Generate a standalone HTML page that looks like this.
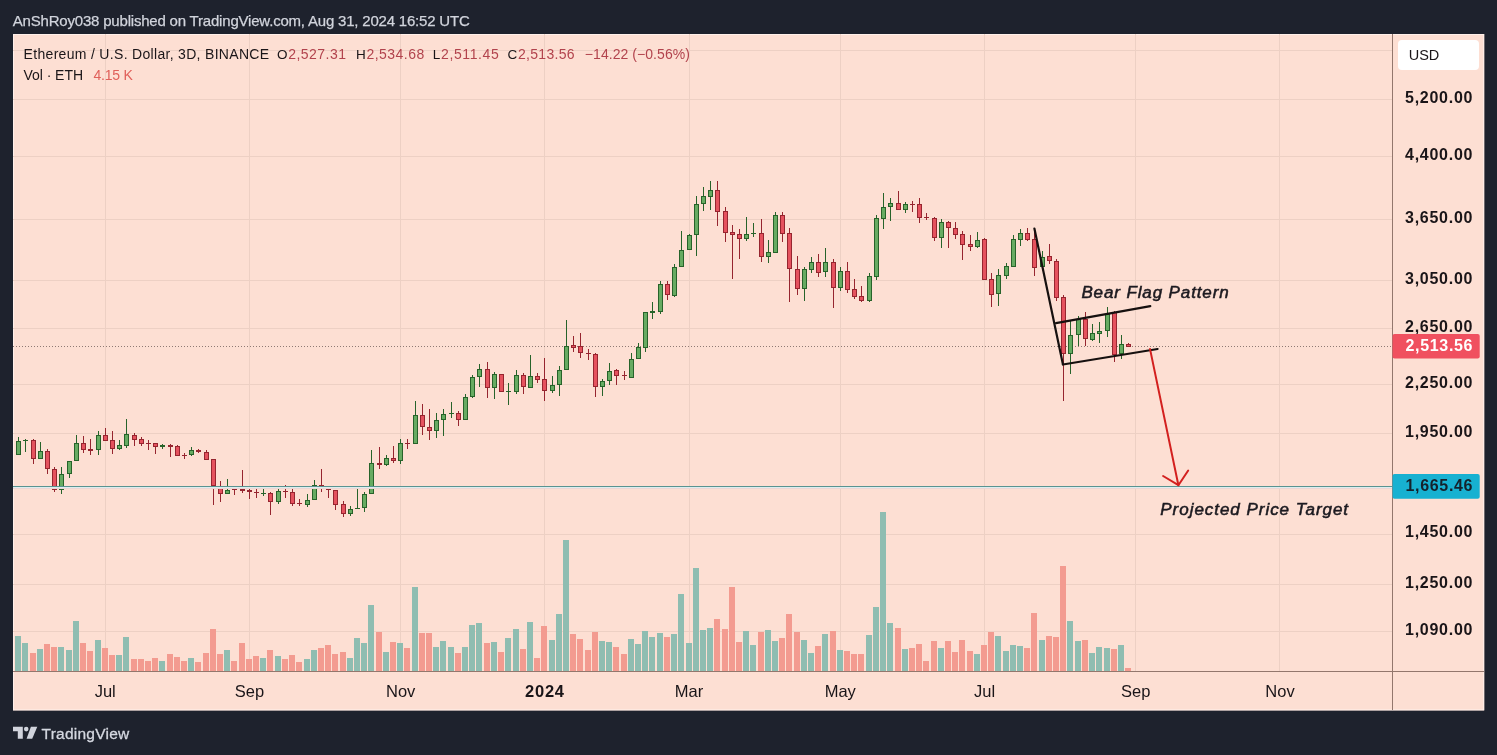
<!DOCTYPE html>
<html lang="en"><head><meta charset="utf-8"><title>ETHUSD 3D chart</title>
<style>html,body{margin:0;padding:0;background:#1e222d;overflow:hidden}body{width:1497px;height:755px;position:relative}</style></head>
<body>
<svg width="1497" height="755" viewBox="0 0 1497 755" style="position:absolute;left:0;top:0;will-change:transform;font-family:'Liberation Sans',sans-serif">
<rect x="0" y="0" width="1497" height="755" fill="#1e222d"/>
<rect x="13" y="34" width="1471.2" height="676.4" fill="#fddfd3"/>
<rect x="13.5" y="34.5" width="1470.2" height="675.4" fill="none" stroke="#fff0ea" stroke-width="1"/>
<g stroke="#edd0c4" stroke-width="1" shape-rendering="crispEdges">
<line x1="105.5" y1="34" x2="105.5" y2="671"/>
<line x1="249.5" y1="34" x2="249.5" y2="671"/>
<line x1="400.5" y1="34" x2="400.5" y2="671"/>
<line x1="544.5" y1="34" x2="544.5" y2="671"/>
<line x1="689.5" y1="34" x2="689.5" y2="671"/>
<line x1="840.5" y1="34" x2="840.5" y2="671"/>
<line x1="984.5" y1="34" x2="984.5" y2="671"/>
<line x1="1135.5" y1="34" x2="1135.5" y2="671"/>
<line x1="1279.5" y1="34" x2="1279.5" y2="671"/>
<line x1="13" y1="50.5" x2="1392" y2="50.5"/>
<line x1="13" y1="99.5" x2="1392" y2="99.5"/>
<line x1="13" y1="156.5" x2="1392" y2="156.5"/>
<line x1="13" y1="219.5" x2="1392" y2="219.5"/>
<line x1="13" y1="280.5" x2="1392" y2="280.5"/>
<line x1="13" y1="328.5" x2="1392" y2="328.5"/>
<line x1="13" y1="384.5" x2="1392" y2="384.5"/>
<line x1="13" y1="433.5" x2="1392" y2="433.5"/>
<line x1="13" y1="534.5" x2="1392" y2="534.5"/>
<line x1="13" y1="584.5" x2="1392" y2="584.5"/>
<line x1="13" y1="631.5" x2="1392" y2="631.5"/>
</g>
<g shape-rendering="crispEdges">
<rect x="15" y="635.6" width="6" height="35.4" fill="#8fbdb1"/>
<rect x="22" y="642.5" width="6" height="28.5" fill="#8fbdb1"/>
<rect x="30" y="652.6" width="6" height="18.4" fill="#f39b90"/>
<rect x="37" y="648.6" width="6" height="22.4" fill="#8fbdb1"/>
<rect x="44" y="643.6" width="6" height="27.4" fill="#f39b90"/>
<rect x="51" y="647.4" width="6" height="23.6" fill="#f39b90"/>
<rect x="58" y="646.6" width="6" height="24.4" fill="#8fbdb1"/>
<rect x="66" y="649.6" width="6" height="21.4" fill="#8fbdb1"/>
<rect x="73" y="620.5" width="6" height="50.5" fill="#8fbdb1"/>
<rect x="80" y="642.5" width="6" height="28.5" fill="#f39b90"/>
<rect x="87" y="650.6" width="6" height="20.4" fill="#f39b90"/>
<rect x="95" y="639.6" width="6" height="31.4" fill="#8fbdb1"/>
<rect x="102" y="647.6" width="6" height="23.4" fill="#f39b90"/>
<rect x="109" y="654.6" width="6" height="16.4" fill="#f39b90"/>
<rect x="116" y="654.6" width="6" height="16.4" fill="#8fbdb1"/>
<rect x="123" y="636.5" width="6" height="34.5" fill="#8fbdb1"/>
<rect x="131" y="658.6" width="6" height="12.4" fill="#f39b90"/>
<rect x="138" y="658.6" width="6" height="12.4" fill="#f39b90"/>
<rect x="145" y="660.6" width="6" height="10.4" fill="#f39b90"/>
<rect x="152" y="657.6" width="6" height="13.4" fill="#f39b90"/>
<rect x="159" y="660.6" width="6" height="10.4" fill="#8fbdb1"/>
<rect x="167" y="653.6" width="6" height="17.4" fill="#f39b90"/>
<rect x="174" y="656.6" width="6" height="14.4" fill="#f39b90"/>
<rect x="181" y="660.6" width="6" height="10.4" fill="#f39b90"/>
<rect x="188" y="657.6" width="6" height="13.4" fill="#8fbdb1"/>
<rect x="195" y="661.6" width="6" height="9.4" fill="#f39b90"/>
<rect x="203" y="653.0" width="6" height="18.0" fill="#f39b90"/>
<rect x="210" y="628.9" width="6" height="42.1" fill="#f39b90"/>
<rect x="217" y="653.9" width="6" height="17.1" fill="#f39b90"/>
<rect x="224" y="649.9" width="6" height="21.1" fill="#8fbdb1"/>
<rect x="231" y="661.0" width="6" height="10.0" fill="#f39b90"/>
<rect x="239" y="642.9" width="6" height="28.1" fill="#f39b90"/>
<rect x="246" y="658.8" width="6" height="12.2" fill="#f39b90"/>
<rect x="253" y="655.9" width="6" height="15.1" fill="#f39b90"/>
<rect x="260" y="657.9" width="6" height="13.1" fill="#8fbdb1"/>
<rect x="267" y="649.9" width="6" height="21.1" fill="#f39b90"/>
<rect x="275" y="655.9" width="6" height="15.1" fill="#8fbdb1"/>
<rect x="282" y="659.0" width="6" height="12.0" fill="#f39b90"/>
<rect x="289" y="655.0" width="6" height="16.0" fill="#f39b90"/>
<rect x="296" y="661.9" width="6" height="9.1" fill="#f39b90"/>
<rect x="304" y="659.0" width="6" height="12.0" fill="#8fbdb1"/>
<rect x="311" y="649.9" width="6" height="21.1" fill="#8fbdb1"/>
<rect x="318" y="647.9" width="6" height="23.1" fill="#f39b90"/>
<rect x="325" y="644.9" width="6" height="26.1" fill="#f39b90"/>
<rect x="332" y="653.9" width="6" height="17.1" fill="#f39b90"/>
<rect x="340" y="651.9" width="6" height="19.1" fill="#f39b90"/>
<rect x="347" y="657.9" width="6" height="13.1" fill="#8fbdb1"/>
<rect x="354" y="637.9" width="6" height="33.1" fill="#8fbdb1"/>
<rect x="361" y="642.9" width="6" height="28.1" fill="#8fbdb1"/>
<rect x="368" y="604.9" width="6" height="66.1" fill="#8fbdb1"/>
<rect x="376" y="631.9" width="6" height="39.1" fill="#f39b90"/>
<rect x="383" y="651.9" width="6" height="19.1" fill="#8fbdb1"/>
<rect x="390" y="641.9" width="6" height="29.1" fill="#f39b90"/>
<rect x="397" y="642.8" width="6" height="28.2" fill="#8fbdb1"/>
<rect x="404" y="647.8" width="6" height="23.2" fill="#f39b90"/>
<rect x="412" y="586.6" width="6" height="84.4" fill="#8fbdb1"/>
<rect x="419" y="632.9" width="6" height="38.1" fill="#f39b90"/>
<rect x="426" y="632.9" width="6" height="38.1" fill="#f39b90"/>
<rect x="433" y="646.8" width="6" height="24.2" fill="#8fbdb1"/>
<rect x="440" y="640.8" width="6" height="30.2" fill="#8fbdb1"/>
<rect x="448" y="646.8" width="6" height="24.2" fill="#8fbdb1"/>
<rect x="455" y="652.7" width="6" height="18.3" fill="#f39b90"/>
<rect x="462" y="646.8" width="6" height="24.2" fill="#8fbdb1"/>
<rect x="469" y="624.9" width="6" height="46.1" fill="#8fbdb1"/>
<rect x="476" y="622.9" width="6" height="48.1" fill="#8fbdb1"/>
<rect x="484" y="642.8" width="6" height="28.2" fill="#f39b90"/>
<rect x="491" y="641.8" width="6" height="29.2" fill="#8fbdb1"/>
<rect x="498" y="651.7" width="6" height="19.3" fill="#f39b90"/>
<rect x="505" y="637.8" width="6" height="33.2" fill="#8fbdb1"/>
<rect x="513" y="628.9" width="6" height="42.1" fill="#8fbdb1"/>
<rect x="520" y="648.7" width="6" height="22.3" fill="#f39b90"/>
<rect x="527" y="621.9" width="6" height="49.1" fill="#8fbdb1"/>
<rect x="534" y="657.7" width="6" height="13.3" fill="#f39b90"/>
<rect x="541" y="625.9" width="6" height="45.1" fill="#f39b90"/>
<rect x="549" y="639.8" width="6" height="31.2" fill="#8fbdb1"/>
<rect x="556" y="614.0" width="6" height="57.0" fill="#8fbdb1"/>
<rect x="563" y="539.5" width="6" height="131.5" fill="#8fbdb1"/>
<rect x="570" y="633.8" width="6" height="37.2" fill="#f39b90"/>
<rect x="577" y="638.8" width="6" height="32.2" fill="#f39b90"/>
<rect x="585" y="649.8" width="6" height="21.2" fill="#f39b90"/>
<rect x="592" y="631.9" width="6" height="39.1" fill="#f39b90"/>
<rect x="599" y="640.9" width="6" height="30.1" fill="#8fbdb1"/>
<rect x="606" y="642.1" width="6" height="28.9" fill="#8fbdb1"/>
<rect x="613" y="646.9" width="6" height="24.1" fill="#f39b90"/>
<rect x="621" y="653.8" width="6" height="17.2" fill="#f39b90"/>
<rect x="628" y="638.8" width="6" height="32.2" fill="#8fbdb1"/>
<rect x="635" y="643.8" width="6" height="27.2" fill="#8fbdb1"/>
<rect x="642" y="630.5" width="6" height="40.5" fill="#8fbdb1"/>
<rect x="649" y="636.9" width="6" height="34.1" fill="#8fbdb1"/>
<rect x="657" y="632.8" width="6" height="38.2" fill="#8fbdb1"/>
<rect x="664" y="636.9" width="6" height="34.1" fill="#f39b90"/>
<rect x="671" y="634.0" width="6" height="37.0" fill="#8fbdb1"/>
<rect x="678" y="593.9" width="6" height="77.1" fill="#8fbdb1"/>
<rect x="686" y="642.9" width="6" height="28.1" fill="#8fbdb1"/>
<rect x="693" y="567.7" width="6" height="103.3" fill="#8fbdb1"/>
<rect x="700" y="629.7" width="6" height="41.3" fill="#8fbdb1"/>
<rect x="707" y="628.0" width="6" height="43.0" fill="#8fbdb1"/>
<rect x="714" y="619.0" width="6" height="52.0" fill="#f39b90"/>
<rect x="722" y="628.8" width="6" height="42.2" fill="#f39b90"/>
<rect x="729" y="586.6" width="6" height="84.4" fill="#f39b90"/>
<rect x="736" y="641.7" width="6" height="29.3" fill="#f39b90"/>
<rect x="743" y="630.5" width="6" height="40.5" fill="#8fbdb1"/>
<rect x="750" y="644.8" width="6" height="26.2" fill="#8fbdb1"/>
<rect x="758" y="631.9" width="6" height="39.1" fill="#f39b90"/>
<rect x="765" y="629.7" width="6" height="41.3" fill="#8fbdb1"/>
<rect x="772" y="640.7" width="6" height="30.3" fill="#8fbdb1"/>
<rect x="779" y="637.9" width="6" height="33.1" fill="#f39b90"/>
<rect x="786" y="613.5" width="6" height="57.5" fill="#f39b90"/>
<rect x="794" y="631.6" width="6" height="39.4" fill="#f39b90"/>
<rect x="801" y="639.7" width="6" height="31.3" fill="#8fbdb1"/>
<rect x="808" y="652.5" width="6" height="18.5" fill="#8fbdb1"/>
<rect x="815" y="645.5" width="6" height="25.5" fill="#f39b90"/>
<rect x="822" y="633.9" width="6" height="37.1" fill="#8fbdb1"/>
<rect x="830" y="630.9" width="6" height="40.1" fill="#f39b90"/>
<rect x="837" y="649.9" width="6" height="21.1" fill="#8fbdb1"/>
<rect x="844" y="650.6" width="6" height="20.4" fill="#f39b90"/>
<rect x="851" y="653.6" width="6" height="17.4" fill="#f39b90"/>
<rect x="858" y="653.6" width="6" height="17.4" fill="#f39b90"/>
<rect x="866" y="634.8" width="6" height="36.2" fill="#8fbdb1"/>
<rect x="873" y="606.6" width="6" height="64.4" fill="#8fbdb1"/>
<rect x="880" y="511.5" width="6" height="159.5" fill="#8fbdb1"/>
<rect x="887" y="622.8" width="6" height="48.2" fill="#8fbdb1"/>
<rect x="895" y="627.9" width="6" height="43.1" fill="#f39b90"/>
<rect x="902" y="648.7" width="6" height="22.3" fill="#8fbdb1"/>
<rect x="909" y="647.8" width="6" height="23.2" fill="#f39b90"/>
<rect x="916" y="643.6" width="6" height="27.4" fill="#f39b90"/>
<rect x="923" y="661.0" width="6" height="10.0" fill="#f39b90"/>
<rect x="931" y="640.6" width="6" height="30.4" fill="#f39b90"/>
<rect x="938" y="647.8" width="6" height="23.2" fill="#8fbdb1"/>
<rect x="945" y="640.6" width="6" height="30.4" fill="#f39b90"/>
<rect x="952" y="651.8" width="6" height="19.2" fill="#f39b90"/>
<rect x="959" y="639.8" width="6" height="31.2" fill="#f39b90"/>
<rect x="967" y="650.6" width="6" height="20.4" fill="#f39b90"/>
<rect x="974" y="653.6" width="6" height="17.4" fill="#8fbdb1"/>
<rect x="981" y="644.8" width="6" height="26.2" fill="#f39b90"/>
<rect x="988" y="631.9" width="6" height="39.1" fill="#f39b90"/>
<rect x="995" y="635.7" width="6" height="35.3" fill="#8fbdb1"/>
<rect x="1003" y="650.6" width="6" height="20.4" fill="#8fbdb1"/>
<rect x="1010" y="644.8" width="6" height="26.2" fill="#8fbdb1"/>
<rect x="1017" y="645.7" width="6" height="25.3" fill="#8fbdb1"/>
<rect x="1024" y="647.7" width="6" height="23.3" fill="#f39b90"/>
<rect x="1031" y="612.9" width="6" height="58.1" fill="#f39b90"/>
<rect x="1039" y="639.9" width="6" height="31.1" fill="#8fbdb1"/>
<rect x="1046" y="635.7" width="6" height="35.3" fill="#f39b90"/>
<rect x="1053" y="636.9" width="6" height="34.1" fill="#f39b90"/>
<rect x="1060" y="565.7" width="6" height="105.3" fill="#f39b90"/>
<rect x="1067" y="620.8" width="6" height="50.2" fill="#8fbdb1"/>
<rect x="1075" y="640.7" width="6" height="30.3" fill="#8fbdb1"/>
<rect x="1082" y="639.9" width="6" height="31.1" fill="#f39b90"/>
<rect x="1089" y="652.6" width="6" height="18.4" fill="#8fbdb1"/>
<rect x="1096" y="646.8" width="6" height="24.2" fill="#8fbdb1"/>
<rect x="1104" y="647.8" width="6" height="23.2" fill="#8fbdb1"/>
<rect x="1111" y="648.6" width="6" height="22.4" fill="#f39b90"/>
<rect x="1118" y="644.8" width="6" height="26.2" fill="#8fbdb1"/>
<rect x="1125" y="668.0" width="6" height="3.0" fill="#f39b90"/>
</g>
<line x1="13" y1="346.5" x2="1392" y2="346.5" stroke="#8f7a74" stroke-width="1" stroke-dasharray="1 2" shape-rendering="crispEdges"/>
<g shape-rendering="crispEdges">
<rect x="18" y="437.0" width="1" height="17.7" fill="#27632a"/>
<rect x="16" y="441.0" width="5" height="13.8" fill="#27632a"/>
<rect x="17" y="442.0" width="3" height="11.8" fill="#67ab62"/>
<rect x="25" y="438.7" width="1" height="12.9" fill="#27632a"/>
<rect x="23" y="440.1" width="5" height="1.2" fill="#27632a"/>
<rect x="33" y="438.7" width="1" height="25.0" fill="#96252f"/>
<rect x="31" y="439.9" width="5" height="18.6" fill="#96252f"/>
<rect x="32" y="440.9" width="3" height="16.6" fill="#e5525e"/>
<rect x="40" y="442.2" width="1" height="17.2" fill="#27632a"/>
<rect x="38" y="451.1" width="5" height="7.4" fill="#27632a"/>
<rect x="39" y="452.1" width="3" height="5.4" fill="#67ab62"/>
<rect x="47" y="449.1" width="1" height="25.3" fill="#96252f"/>
<rect x="45" y="451.1" width="5" height="18.2" fill="#96252f"/>
<rect x="46" y="452.1" width="3" height="16.2" fill="#e5525e"/>
<rect x="54" y="467.1" width="1" height="25.0" fill="#96252f"/>
<rect x="52" y="469.2" width="5" height="20.3" fill="#96252f"/>
<rect x="53" y="470.2" width="3" height="18.3" fill="#e5525e"/>
<rect x="61" y="467.1" width="1" height="26.7" fill="#27632a"/>
<rect x="59" y="474.4" width="5" height="15.1" fill="#27632a"/>
<rect x="60" y="475.4" width="3" height="13.1" fill="#67ab62"/>
<rect x="69" y="461.1" width="1" height="16.4" fill="#27632a"/>
<rect x="67" y="461.1" width="5" height="13.3" fill="#27632a"/>
<rect x="68" y="462.1" width="3" height="11.3" fill="#67ab62"/>
<rect x="76" y="435.3" width="1" height="25.8" fill="#27632a"/>
<rect x="74" y="443.0" width="5" height="18.1" fill="#27632a"/>
<rect x="75" y="444.0" width="3" height="16.1" fill="#67ab62"/>
<rect x="83" y="436.1" width="1" height="16.4" fill="#96252f"/>
<rect x="81" y="443.0" width="5" height="6.5" fill="#96252f"/>
<rect x="82" y="444.0" width="3" height="4.5" fill="#e5525e"/>
<rect x="90" y="439.2" width="1" height="16.2" fill="#96252f"/>
<rect x="88" y="449.4" width="5" height="1.4" fill="#96252f"/>
<rect x="98" y="431.0" width="1" height="23.8" fill="#27632a"/>
<rect x="96" y="435.3" width="5" height="15.1" fill="#27632a"/>
<rect x="97" y="436.3" width="3" height="13.1" fill="#67ab62"/>
<rect x="105" y="427.9" width="1" height="13.4" fill="#96252f"/>
<rect x="103" y="435.3" width="5" height="5.2" fill="#96252f"/>
<rect x="104" y="436.3" width="3" height="3.2" fill="#e5525e"/>
<rect x="112" y="431.3" width="1" height="22.4" fill="#96252f"/>
<rect x="110" y="440.4" width="5" height="8.1" fill="#96252f"/>
<rect x="111" y="441.4" width="3" height="6.1" fill="#e5525e"/>
<rect x="119" y="440.4" width="1" height="10.0" fill="#27632a"/>
<rect x="117" y="445.4" width="5" height="3.1" fill="#27632a"/>
<rect x="118" y="446.4" width="3" height="1.1" fill="#67ab62"/>
<rect x="126" y="418.9" width="1" height="28.9" fill="#27632a"/>
<rect x="124" y="434.1" width="5" height="11.4" fill="#27632a"/>
<rect x="125" y="435.1" width="3" height="9.4" fill="#67ab62"/>
<rect x="134" y="433.0" width="1" height="12.6" fill="#96252f"/>
<rect x="132" y="435.3" width="5" height="4.3" fill="#96252f"/>
<rect x="133" y="436.3" width="3" height="2.3" fill="#e5525e"/>
<rect x="141" y="436.5" width="1" height="9.5" fill="#96252f"/>
<rect x="139" y="439.2" width="5" height="4.3" fill="#96252f"/>
<rect x="140" y="440.2" width="3" height="2.3" fill="#e5525e"/>
<rect x="148" y="440.4" width="1" height="9.5" fill="#96252f"/>
<rect x="146" y="443.0" width="5" height="1.2" fill="#96252f"/>
<rect x="155" y="443.0" width="1" height="10.7" fill="#96252f"/>
<rect x="153" y="443.4" width="5" height="3.1" fill="#96252f"/>
<rect x="154" y="444.4" width="3" height="1.1" fill="#e5525e"/>
<rect x="162" y="443.9" width="1" height="4.8" fill="#27632a"/>
<rect x="160" y="445.4" width="5" height="1.2" fill="#27632a"/>
<rect x="170" y="444.2" width="1" height="12.6" fill="#96252f"/>
<rect x="168" y="445.3" width="5" height="1.2" fill="#96252f"/>
<rect x="177" y="445.1" width="1" height="10.8" fill="#96252f"/>
<rect x="175" y="446.0" width="5" height="9.5" fill="#96252f"/>
<rect x="176" y="447.0" width="3" height="7.5" fill="#e5525e"/>
<rect x="184" y="452.5" width="1" height="6.0" fill="#96252f"/>
<rect x="182" y="454.7" width="5" height="1.2" fill="#96252f"/>
<rect x="191" y="446.5" width="1" height="9.5" fill="#27632a"/>
<rect x="189" y="450.4" width="5" height="5.0" fill="#27632a"/>
<rect x="190" y="451.4" width="3" height="3.0" fill="#67ab62"/>
<rect x="198" y="449.4" width="1" height="3.3" fill="#96252f"/>
<rect x="196" y="450.3" width="5" height="1.7" fill="#96252f"/>
<rect x="206" y="449.9" width="1" height="9.6" fill="#96252f"/>
<rect x="204" y="452.2" width="5" height="7.4" fill="#96252f"/>
<rect x="205" y="453.2" width="3" height="5.4" fill="#e5525e"/>
<rect x="213" y="459.1" width="1" height="45.6" fill="#96252f"/>
<rect x="211" y="459.1" width="5" height="26.7" fill="#96252f"/>
<rect x="212" y="460.1" width="3" height="24.7" fill="#e5525e"/>
<rect x="220" y="481.4" width="1" height="20.7" fill="#96252f"/>
<rect x="218" y="486.6" width="5" height="6.9" fill="#96252f"/>
<rect x="219" y="487.6" width="3" height="4.9" fill="#e5525e"/>
<rect x="227" y="478.8" width="1" height="14.6" fill="#27632a"/>
<rect x="225" y="489.5" width="5" height="4.0" fill="#27632a"/>
<rect x="226" y="490.5" width="3" height="2.0" fill="#67ab62"/>
<rect x="234" y="486.6" width="1" height="8.6" fill="#96252f"/>
<rect x="232" y="488.8" width="5" height="1.2" fill="#96252f"/>
<rect x="242" y="469.9" width="1" height="22.7" fill="#96252f"/>
<rect x="240" y="489.2" width="5" height="1.4" fill="#96252f"/>
<rect x="249" y="489.2" width="1" height="9.5" fill="#96252f"/>
<rect x="247" y="490.0" width="5" height="2.2" fill="#96252f"/>
<rect x="248" y="491.0" width="3" height="0.2" fill="#e5525e"/>
<rect x="256" y="486.9" width="1" height="10.8" fill="#96252f"/>
<rect x="254" y="491.9" width="5" height="1.2" fill="#96252f"/>
<rect x="263" y="486.9" width="1" height="8.6" fill="#27632a"/>
<rect x="261" y="493.1" width="5" height="1.2" fill="#27632a"/>
<rect x="270" y="492.3" width="1" height="22.4" fill="#96252f"/>
<rect x="268" y="493.0" width="5" height="8.6" fill="#96252f"/>
<rect x="269" y="494.0" width="3" height="6.6" fill="#e5525e"/>
<rect x="278" y="489.2" width="1" height="14.6" fill="#27632a"/>
<rect x="276" y="491.2" width="5" height="10.3" fill="#27632a"/>
<rect x="277" y="492.2" width="3" height="8.3" fill="#67ab62"/>
<rect x="285" y="484.9" width="1" height="12.9" fill="#96252f"/>
<rect x="283" y="490.9" width="5" height="1.2" fill="#96252f"/>
<rect x="292" y="486.6" width="1" height="18.9" fill="#96252f"/>
<rect x="290" y="492.3" width="5" height="11.5" fill="#96252f"/>
<rect x="291" y="493.3" width="3" height="9.5" fill="#e5525e"/>
<rect x="299" y="499.2" width="1" height="6.4" fill="#96252f"/>
<rect x="297" y="502.9" width="5" height="1.2" fill="#96252f"/>
<rect x="307" y="493.5" width="1" height="13.3" fill="#27632a"/>
<rect x="305" y="500.0" width="5" height="4.6" fill="#27632a"/>
<rect x="306" y="501.0" width="3" height="2.6" fill="#67ab62"/>
<rect x="314" y="480.2" width="1" height="20.1" fill="#27632a"/>
<rect x="312" y="485.2" width="5" height="15.1" fill="#27632a"/>
<rect x="313" y="486.2" width="3" height="13.1" fill="#67ab62"/>
<rect x="321" y="469.0" width="1" height="22.7" fill="#96252f"/>
<rect x="319" y="485.2" width="5" height="3.1" fill="#96252f"/>
<rect x="320" y="486.2" width="3" height="1.1" fill="#e5525e"/>
<rect x="328" y="486.9" width="1" height="10.8" fill="#96252f"/>
<rect x="326" y="488.3" width="5" height="2.1" fill="#96252f"/>
<rect x="335" y="490.2" width="1" height="19.6" fill="#96252f"/>
<rect x="333" y="490.2" width="5" height="14.5" fill="#96252f"/>
<rect x="334" y="491.2" width="3" height="12.5" fill="#e5525e"/>
<rect x="343" y="501.2" width="1" height="15.5" fill="#96252f"/>
<rect x="341" y="504.1" width="5" height="9.6" fill="#96252f"/>
<rect x="342" y="505.1" width="3" height="7.6" fill="#e5525e"/>
<rect x="350" y="506.4" width="1" height="9.1" fill="#27632a"/>
<rect x="348" y="509.3" width="5" height="4.5" fill="#27632a"/>
<rect x="349" y="510.3" width="3" height="2.5" fill="#67ab62"/>
<rect x="357" y="488.3" width="1" height="21.0" fill="#27632a"/>
<rect x="355" y="508.1" width="5" height="1.2" fill="#27632a"/>
<rect x="364" y="491.8" width="1" height="19.8" fill="#27632a"/>
<rect x="362" y="494.3" width="5" height="14.1" fill="#27632a"/>
<rect x="363" y="495.3" width="3" height="12.1" fill="#67ab62"/>
<rect x="371" y="449.9" width="1" height="44.4" fill="#27632a"/>
<rect x="369" y="463.4" width="5" height="31.0" fill="#27632a"/>
<rect x="370" y="464.4" width="3" height="29.0" fill="#67ab62"/>
<rect x="379" y="447.0" width="1" height="21.5" fill="#96252f"/>
<rect x="377" y="463.4" width="5" height="1.2" fill="#96252f"/>
<rect x="386" y="454.7" width="1" height="11.0" fill="#27632a"/>
<rect x="384" y="458.3" width="5" height="6.4" fill="#27632a"/>
<rect x="385" y="459.3" width="3" height="4.4" fill="#67ab62"/>
<rect x="393" y="446.2" width="1" height="16.3" fill="#96252f"/>
<rect x="391" y="458.3" width="5" height="2.5" fill="#96252f"/>
<rect x="392" y="459.3" width="3" height="0.5" fill="#e5525e"/>
<rect x="400" y="439.2" width="1" height="24.4" fill="#27632a"/>
<rect x="398" y="443.1" width="5" height="17.4" fill="#27632a"/>
<rect x="399" y="444.1" width="3" height="15.4" fill="#67ab62"/>
<rect x="407" y="438.8" width="1" height="10.6" fill="#96252f"/>
<rect x="405" y="442.6" width="5" height="1.2" fill="#96252f"/>
<rect x="415" y="401.1" width="1" height="43.0" fill="#27632a"/>
<rect x="413" y="415.3" width="5" height="28.8" fill="#27632a"/>
<rect x="414" y="416.3" width="3" height="26.8" fill="#67ab62"/>
<rect x="422" y="404.3" width="1" height="30.7" fill="#96252f"/>
<rect x="420" y="415.3" width="5" height="11.7" fill="#96252f"/>
<rect x="421" y="416.3" width="3" height="9.7" fill="#e5525e"/>
<rect x="429" y="408.9" width="1" height="30.7" fill="#96252f"/>
<rect x="427" y="426.9" width="5" height="3.8" fill="#96252f"/>
<rect x="428" y="427.9" width="3" height="1.8" fill="#e5525e"/>
<rect x="436" y="413.4" width="1" height="24.4" fill="#27632a"/>
<rect x="434" y="420.2" width="5" height="11.2" fill="#27632a"/>
<rect x="435" y="421.2" width="3" height="9.2" fill="#67ab62"/>
<rect x="443" y="409.2" width="1" height="26.9" fill="#27632a"/>
<rect x="441" y="414.2" width="5" height="5.9" fill="#27632a"/>
<rect x="442" y="415.2" width="3" height="3.9" fill="#67ab62"/>
<rect x="451" y="402.2" width="1" height="15.3" fill="#27632a"/>
<rect x="449" y="413.0" width="5" height="1.2" fill="#27632a"/>
<rect x="458" y="411.1" width="1" height="14.8" fill="#96252f"/>
<rect x="456" y="413.4" width="5" height="6.1" fill="#96252f"/>
<rect x="457" y="414.4" width="3" height="4.1" fill="#e5525e"/>
<rect x="465" y="394.1" width="1" height="25.4" fill="#27632a"/>
<rect x="463" y="397.3" width="5" height="22.2" fill="#27632a"/>
<rect x="464" y="398.3" width="3" height="20.2" fill="#67ab62"/>
<rect x="472" y="375.3" width="1" height="23.1" fill="#27632a"/>
<rect x="470" y="377.4" width="5" height="19.9" fill="#27632a"/>
<rect x="471" y="378.4" width="3" height="17.9" fill="#67ab62"/>
<rect x="479" y="364.0" width="1" height="23.3" fill="#27632a"/>
<rect x="477" y="368.7" width="5" height="8.7" fill="#27632a"/>
<rect x="478" y="369.7" width="3" height="6.7" fill="#67ab62"/>
<rect x="487" y="361.9" width="1" height="35.6" fill="#96252f"/>
<rect x="485" y="368.7" width="5" height="19.7" fill="#96252f"/>
<rect x="486" y="369.7" width="3" height="17.7" fill="#e5525e"/>
<rect x="494" y="372.1" width="1" height="26.5" fill="#27632a"/>
<rect x="492" y="374.2" width="5" height="14.2" fill="#27632a"/>
<rect x="493" y="375.2" width="3" height="12.2" fill="#67ab62"/>
<rect x="501" y="374.2" width="1" height="18.0" fill="#96252f"/>
<rect x="499" y="374.2" width="5" height="18.0" fill="#96252f"/>
<rect x="500" y="375.2" width="3" height="16.0" fill="#e5525e"/>
<rect x="508" y="382.5" width="1" height="22.5" fill="#27632a"/>
<rect x="506" y="390.7" width="5" height="1.2" fill="#27632a"/>
<rect x="516" y="370.4" width="1" height="23.3" fill="#27632a"/>
<rect x="514" y="375.3" width="5" height="16.3" fill="#27632a"/>
<rect x="515" y="376.3" width="3" height="14.3" fill="#67ab62"/>
<rect x="523" y="372.9" width="1" height="20.8" fill="#96252f"/>
<rect x="521" y="375.3" width="5" height="12.1" fill="#96252f"/>
<rect x="522" y="376.3" width="3" height="10.1" fill="#e5525e"/>
<rect x="530" y="354.9" width="1" height="33.1" fill="#27632a"/>
<rect x="528" y="376.3" width="5" height="11.2" fill="#27632a"/>
<rect x="529" y="377.3" width="3" height="9.2" fill="#67ab62"/>
<rect x="537" y="373.1" width="1" height="9.5" fill="#96252f"/>
<rect x="535" y="376.3" width="5" height="3.2" fill="#96252f"/>
<rect x="536" y="377.3" width="3" height="1.2" fill="#e5525e"/>
<rect x="544" y="357.7" width="1" height="43.4" fill="#96252f"/>
<rect x="542" y="379.3" width="5" height="11.2" fill="#96252f"/>
<rect x="543" y="380.3" width="3" height="9.2" fill="#e5525e"/>
<rect x="552" y="376.3" width="1" height="16.3" fill="#27632a"/>
<rect x="550" y="385.2" width="5" height="5.3" fill="#27632a"/>
<rect x="551" y="386.2" width="3" height="3.3" fill="#67ab62"/>
<rect x="559" y="366.1" width="1" height="29.7" fill="#27632a"/>
<rect x="557" y="370.4" width="5" height="14.8" fill="#27632a"/>
<rect x="558" y="371.4" width="3" height="12.8" fill="#67ab62"/>
<rect x="566" y="320.0" width="1" height="50.4" fill="#27632a"/>
<rect x="564" y="345.6" width="5" height="24.8" fill="#27632a"/>
<rect x="565" y="346.6" width="3" height="22.8" fill="#67ab62"/>
<rect x="573" y="335.8" width="1" height="15.8" fill="#96252f"/>
<rect x="571" y="345.3" width="5" height="2.3" fill="#96252f"/>
<rect x="572" y="346.3" width="3" height="0.3" fill="#e5525e"/>
<rect x="580" y="333.1" width="1" height="24.5" fill="#96252f"/>
<rect x="578" y="346.4" width="5" height="6.3" fill="#96252f"/>
<rect x="579" y="347.4" width="3" height="4.3" fill="#e5525e"/>
<rect x="588" y="348.7" width="1" height="11.3" fill="#96252f"/>
<rect x="586" y="352.9" width="5" height="1.4" fill="#96252f"/>
<rect x="595" y="352.7" width="1" height="43.9" fill="#96252f"/>
<rect x="593" y="354.3" width="5" height="32.2" fill="#96252f"/>
<rect x="594" y="355.3" width="3" height="30.2" fill="#e5525e"/>
<rect x="602" y="378.6" width="1" height="16.9" fill="#27632a"/>
<rect x="600" y="381.3" width="5" height="5.2" fill="#27632a"/>
<rect x="601" y="382.3" width="3" height="3.2" fill="#67ab62"/>
<rect x="609" y="362.9" width="1" height="22.5" fill="#27632a"/>
<rect x="607" y="370.7" width="5" height="10.6" fill="#27632a"/>
<rect x="608" y="371.7" width="3" height="8.6" fill="#67ab62"/>
<rect x="616" y="368.5" width="1" height="16.4" fill="#96252f"/>
<rect x="614" y="370.3" width="5" height="5.4" fill="#96252f"/>
<rect x="615" y="371.3" width="3" height="3.4" fill="#e5525e"/>
<rect x="624" y="371.4" width="1" height="9.0" fill="#96252f"/>
<rect x="622" y="375.0" width="5" height="1.4" fill="#96252f"/>
<rect x="631" y="353.2" width="1" height="24.3" fill="#27632a"/>
<rect x="629" y="359.0" width="5" height="18.5" fill="#27632a"/>
<rect x="630" y="360.0" width="3" height="16.5" fill="#67ab62"/>
<rect x="638" y="342.6" width="1" height="16.4" fill="#27632a"/>
<rect x="636" y="347.1" width="5" height="11.9" fill="#27632a"/>
<rect x="637" y="348.1" width="3" height="9.9" fill="#67ab62"/>
<rect x="645" y="312.4" width="1" height="39.2" fill="#27632a"/>
<rect x="643" y="312.4" width="5" height="35.1" fill="#27632a"/>
<rect x="644" y="313.4" width="3" height="33.1" fill="#67ab62"/>
<rect x="652" y="302.1" width="1" height="16.4" fill="#27632a"/>
<rect x="650" y="311.1" width="5" height="1.4" fill="#27632a"/>
<rect x="660" y="281.3" width="1" height="32.4" fill="#27632a"/>
<rect x="658" y="284.0" width="5" height="27.5" fill="#27632a"/>
<rect x="659" y="285.0" width="3" height="25.5" fill="#67ab62"/>
<rect x="667" y="281.3" width="1" height="19.1" fill="#96252f"/>
<rect x="665" y="284.0" width="5" height="11.3" fill="#96252f"/>
<rect x="666" y="285.0" width="3" height="9.3" fill="#e5525e"/>
<rect x="674" y="264.4" width="1" height="32.2" fill="#27632a"/>
<rect x="672" y="267.4" width="5" height="28.2" fill="#27632a"/>
<rect x="673" y="268.4" width="3" height="26.2" fill="#67ab62"/>
<rect x="681" y="231.2" width="1" height="36.2" fill="#27632a"/>
<rect x="679" y="249.5" width="5" height="17.3" fill="#27632a"/>
<rect x="680" y="250.5" width="3" height="15.3" fill="#67ab62"/>
<rect x="689" y="233.6" width="1" height="15.9" fill="#27632a"/>
<rect x="687" y="235.2" width="5" height="14.3" fill="#27632a"/>
<rect x="688" y="236.2" width="3" height="12.3" fill="#67ab62"/>
<rect x="696" y="196.2" width="1" height="59.6" fill="#27632a"/>
<rect x="694" y="204.2" width="5" height="30.4" fill="#27632a"/>
<rect x="695" y="205.2" width="3" height="28.4" fill="#67ab62"/>
<rect x="703" y="187.3" width="1" height="23.4" fill="#27632a"/>
<rect x="701" y="196.4" width="5" height="7.7" fill="#27632a"/>
<rect x="702" y="197.4" width="3" height="5.7" fill="#67ab62"/>
<rect x="710" y="180.9" width="1" height="28.8" fill="#27632a"/>
<rect x="708" y="190.3" width="5" height="6.2" fill="#27632a"/>
<rect x="709" y="191.3" width="3" height="4.2" fill="#67ab62"/>
<rect x="717" y="180.9" width="1" height="44.7" fill="#96252f"/>
<rect x="715" y="190.3" width="5" height="21.5" fill="#96252f"/>
<rect x="716" y="191.3" width="3" height="19.5" fill="#e5525e"/>
<rect x="725" y="207.2" width="1" height="34.4" fill="#96252f"/>
<rect x="723" y="211.3" width="5" height="21.3" fill="#96252f"/>
<rect x="724" y="212.3" width="3" height="19.3" fill="#e5525e"/>
<rect x="732" y="225.2" width="1" height="54.0" fill="#96252f"/>
<rect x="730" y="232.2" width="5" height="2.4" fill="#96252f"/>
<rect x="731" y="233.2" width="3" height="0.4" fill="#e5525e"/>
<rect x="739" y="229.0" width="1" height="29.8" fill="#96252f"/>
<rect x="737" y="234.2" width="5" height="4.4" fill="#96252f"/>
<rect x="738" y="235.2" width="3" height="2.4" fill="#e5525e"/>
<rect x="746" y="216.7" width="1" height="23.8" fill="#27632a"/>
<rect x="744" y="234.2" width="5" height="4.4" fill="#27632a"/>
<rect x="745" y="235.2" width="3" height="2.4" fill="#67ab62"/>
<rect x="753" y="223.0" width="1" height="13.5" fill="#27632a"/>
<rect x="751" y="233.2" width="5" height="1.2" fill="#27632a"/>
<rect x="761" y="219.3" width="1" height="42.5" fill="#96252f"/>
<rect x="759" y="233.2" width="5" height="23.6" fill="#96252f"/>
<rect x="760" y="234.2" width="3" height="21.6" fill="#e5525e"/>
<rect x="768" y="240.1" width="1" height="22.7" fill="#27632a"/>
<rect x="766" y="252.1" width="5" height="4.8" fill="#27632a"/>
<rect x="767" y="253.1" width="3" height="2.8" fill="#67ab62"/>
<rect x="775" y="212.3" width="1" height="40.7" fill="#27632a"/>
<rect x="773" y="215.3" width="5" height="37.2" fill="#27632a"/>
<rect x="774" y="216.3" width="3" height="35.2" fill="#67ab62"/>
<rect x="782" y="212.3" width="1" height="29.2" fill="#96252f"/>
<rect x="780" y="215.3" width="5" height="18.3" fill="#96252f"/>
<rect x="781" y="216.3" width="3" height="16.3" fill="#e5525e"/>
<rect x="789" y="228.2" width="1" height="73.5" fill="#96252f"/>
<rect x="787" y="233.2" width="5" height="36.2" fill="#96252f"/>
<rect x="788" y="234.2" width="3" height="34.2" fill="#e5525e"/>
<rect x="797" y="256.0" width="1" height="39.1" fill="#96252f"/>
<rect x="795" y="268.9" width="5" height="19.7" fill="#96252f"/>
<rect x="796" y="269.9" width="3" height="17.7" fill="#e5525e"/>
<rect x="804" y="267.4" width="1" height="33.8" fill="#27632a"/>
<rect x="802" y="269.3" width="5" height="19.3" fill="#27632a"/>
<rect x="803" y="270.3" width="3" height="17.3" fill="#67ab62"/>
<rect x="811" y="257.4" width="1" height="15.3" fill="#27632a"/>
<rect x="809" y="262.4" width="5" height="7.4" fill="#27632a"/>
<rect x="810" y="263.4" width="3" height="5.4" fill="#67ab62"/>
<rect x="818" y="254.0" width="1" height="22.7" fill="#96252f"/>
<rect x="816" y="262.4" width="5" height="10.3" fill="#96252f"/>
<rect x="817" y="263.4" width="3" height="8.3" fill="#e5525e"/>
<rect x="825" y="248.1" width="1" height="29.2" fill="#27632a"/>
<rect x="823" y="262.4" width="5" height="9.3" fill="#27632a"/>
<rect x="824" y="263.4" width="3" height="7.3" fill="#67ab62"/>
<rect x="833" y="259.4" width="1" height="48.3" fill="#96252f"/>
<rect x="831" y="262.0" width="5" height="25.6" fill="#96252f"/>
<rect x="832" y="263.0" width="3" height="23.6" fill="#e5525e"/>
<rect x="840" y="267.4" width="1" height="23.2" fill="#27632a"/>
<rect x="838" y="271.3" width="5" height="16.3" fill="#27632a"/>
<rect x="839" y="272.3" width="3" height="14.3" fill="#67ab62"/>
<rect x="847" y="262.4" width="1" height="30.4" fill="#96252f"/>
<rect x="845" y="271.3" width="5" height="18.3" fill="#96252f"/>
<rect x="846" y="272.3" width="3" height="16.3" fill="#e5525e"/>
<rect x="854" y="279.3" width="1" height="19.5" fill="#96252f"/>
<rect x="852" y="289.2" width="5" height="7.4" fill="#96252f"/>
<rect x="853" y="290.2" width="3" height="5.4" fill="#e5525e"/>
<rect x="861" y="286.2" width="1" height="15.3" fill="#96252f"/>
<rect x="859" y="296.4" width="5" height="4.4" fill="#96252f"/>
<rect x="860" y="297.4" width="3" height="2.4" fill="#e5525e"/>
<rect x="869" y="273.3" width="1" height="28.2" fill="#27632a"/>
<rect x="867" y="276.3" width="5" height="24.4" fill="#27632a"/>
<rect x="868" y="277.3" width="3" height="22.4" fill="#67ab62"/>
<rect x="876" y="215.3" width="1" height="65.0" fill="#27632a"/>
<rect x="874" y="218.3" width="5" height="58.4" fill="#27632a"/>
<rect x="875" y="219.3" width="3" height="56.4" fill="#67ab62"/>
<rect x="883" y="193.2" width="1" height="35.4" fill="#27632a"/>
<rect x="881" y="207.4" width="5" height="11.3" fill="#27632a"/>
<rect x="882" y="208.4" width="3" height="9.3" fill="#67ab62"/>
<rect x="890" y="198.4" width="1" height="22.3" fill="#27632a"/>
<rect x="888" y="203.4" width="5" height="4.0" fill="#27632a"/>
<rect x="889" y="204.4" width="3" height="2.0" fill="#67ab62"/>
<rect x="898" y="190.9" width="1" height="19.5" fill="#96252f"/>
<rect x="896" y="203.4" width="5" height="6.4" fill="#96252f"/>
<rect x="897" y="204.4" width="3" height="4.4" fill="#e5525e"/>
<rect x="905" y="201.8" width="1" height="11.5" fill="#27632a"/>
<rect x="903" y="204.4" width="5" height="5.4" fill="#27632a"/>
<rect x="904" y="205.4" width="3" height="3.4" fill="#67ab62"/>
<rect x="912" y="200.8" width="1" height="10.9" fill="#96252f"/>
<rect x="910" y="204.2" width="5" height="1.2" fill="#96252f"/>
<rect x="919" y="198.4" width="1" height="24.2" fill="#96252f"/>
<rect x="917" y="204.4" width="5" height="13.3" fill="#96252f"/>
<rect x="918" y="205.4" width="3" height="11.3" fill="#e5525e"/>
<rect x="926" y="212.7" width="1" height="7.0" fill="#96252f"/>
<rect x="924" y="217.1" width="5" height="1.2" fill="#96252f"/>
<rect x="934" y="217.1" width="1" height="23.4" fill="#96252f"/>
<rect x="932" y="218.1" width="5" height="19.5" fill="#96252f"/>
<rect x="933" y="219.1" width="3" height="17.5" fill="#e5525e"/>
<rect x="941" y="219.1" width="1" height="28.4" fill="#27632a"/>
<rect x="939" y="222.1" width="5" height="15.5" fill="#27632a"/>
<rect x="940" y="223.1" width="3" height="13.5" fill="#67ab62"/>
<rect x="948" y="220.7" width="1" height="26.8" fill="#96252f"/>
<rect x="946" y="222.1" width="5" height="6.2" fill="#96252f"/>
<rect x="947" y="223.1" width="3" height="4.2" fill="#e5525e"/>
<rect x="955" y="222.1" width="1" height="16.5" fill="#96252f"/>
<rect x="953" y="228.2" width="5" height="6.4" fill="#96252f"/>
<rect x="954" y="229.2" width="3" height="4.4" fill="#e5525e"/>
<rect x="962" y="230.6" width="1" height="29.2" fill="#96252f"/>
<rect x="960" y="234.2" width="5" height="10.3" fill="#96252f"/>
<rect x="961" y="235.2" width="3" height="8.3" fill="#e5525e"/>
<rect x="970" y="235.2" width="1" height="15.3" fill="#96252f"/>
<rect x="968" y="244.1" width="5" height="2.4" fill="#96252f"/>
<rect x="969" y="245.1" width="3" height="0.4" fill="#e5525e"/>
<rect x="977" y="232.2" width="1" height="15.3" fill="#27632a"/>
<rect x="975" y="239.5" width="5" height="7.4" fill="#27632a"/>
<rect x="976" y="240.5" width="3" height="5.4" fill="#67ab62"/>
<rect x="984" y="237.6" width="1" height="42.7" fill="#96252f"/>
<rect x="982" y="239.1" width="5" height="40.5" fill="#96252f"/>
<rect x="983" y="240.1" width="3" height="38.5" fill="#e5525e"/>
<rect x="991" y="273.3" width="1" height="33.4" fill="#96252f"/>
<rect x="989" y="279.3" width="5" height="15.3" fill="#96252f"/>
<rect x="990" y="280.3" width="3" height="13.3" fill="#e5525e"/>
<rect x="998" y="269.3" width="1" height="36.4" fill="#27632a"/>
<rect x="996" y="275.3" width="5" height="18.3" fill="#27632a"/>
<rect x="997" y="276.3" width="3" height="16.3" fill="#67ab62"/>
<rect x="1006" y="263.0" width="1" height="16.3" fill="#27632a"/>
<rect x="1004" y="266.4" width="5" height="9.3" fill="#27632a"/>
<rect x="1005" y="267.4" width="3" height="7.3" fill="#67ab62"/>
<rect x="1013" y="234.6" width="1" height="32.8" fill="#27632a"/>
<rect x="1011" y="239.1" width="5" height="27.6" fill="#27632a"/>
<rect x="1012" y="240.1" width="3" height="25.6" fill="#67ab62"/>
<rect x="1020" y="229.0" width="1" height="16.5" fill="#27632a"/>
<rect x="1018" y="233.2" width="5" height="6.4" fill="#27632a"/>
<rect x="1019" y="234.2" width="3" height="4.4" fill="#67ab62"/>
<rect x="1027" y="228.0" width="1" height="13.1" fill="#96252f"/>
<rect x="1025" y="233.2" width="5" height="6.8" fill="#96252f"/>
<rect x="1026" y="234.2" width="3" height="4.8" fill="#e5525e"/>
<rect x="1034" y="229.6" width="1" height="46.4" fill="#96252f"/>
<rect x="1032" y="239.4" width="5" height="28.1" fill="#96252f"/>
<rect x="1033" y="240.4" width="3" height="26.1" fill="#e5525e"/>
<rect x="1042" y="251.3" width="1" height="15.4" fill="#27632a"/>
<rect x="1040" y="256.6" width="5" height="10.1" fill="#27632a"/>
<rect x="1041" y="257.6" width="3" height="8.1" fill="#67ab62"/>
<rect x="1049" y="243.6" width="1" height="19.9" fill="#96252f"/>
<rect x="1047" y="256.1" width="5" height="5.3" fill="#96252f"/>
<rect x="1048" y="257.1" width="3" height="3.3" fill="#e5525e"/>
<rect x="1056" y="258.7" width="1" height="42.4" fill="#96252f"/>
<rect x="1054" y="260.8" width="5" height="37.1" fill="#96252f"/>
<rect x="1055" y="261.8" width="3" height="35.1" fill="#e5525e"/>
<rect x="1063" y="294.6" width="1" height="106.7" fill="#96252f"/>
<rect x="1061" y="296.9" width="5" height="57.2" fill="#96252f"/>
<rect x="1062" y="297.9" width="3" height="55.2" fill="#e5525e"/>
<rect x="1070" y="319.9" width="1" height="54.4" fill="#27632a"/>
<rect x="1068" y="335.1" width="5" height="18.6" fill="#27632a"/>
<rect x="1069" y="336.1" width="3" height="16.6" fill="#67ab62"/>
<rect x="1078" y="315.6" width="1" height="30.6" fill="#27632a"/>
<rect x="1076" y="318.7" width="5" height="16.7" fill="#27632a"/>
<rect x="1077" y="319.7" width="3" height="14.7" fill="#67ab62"/>
<rect x="1085" y="312.2" width="1" height="34.1" fill="#96252f"/>
<rect x="1083" y="319.1" width="5" height="20.3" fill="#96252f"/>
<rect x="1084" y="320.1" width="3" height="18.3" fill="#e5525e"/>
<rect x="1092" y="324.4" width="1" height="16.2" fill="#27632a"/>
<rect x="1090" y="333.4" width="5" height="6.4" fill="#27632a"/>
<rect x="1091" y="334.4" width="3" height="4.4" fill="#67ab62"/>
<rect x="1099" y="322.2" width="1" height="20.3" fill="#27632a"/>
<rect x="1097" y="330.8" width="5" height="2.9" fill="#27632a"/>
<rect x="1098" y="331.8" width="3" height="0.9" fill="#67ab62"/>
<rect x="1107" y="306.7" width="1" height="30.1" fill="#27632a"/>
<rect x="1105" y="313.6" width="5" height="17.2" fill="#27632a"/>
<rect x="1106" y="314.6" width="3" height="15.2" fill="#67ab62"/>
<rect x="1114" y="310.6" width="1" height="51.1" fill="#96252f"/>
<rect x="1112" y="312.4" width="5" height="42.5" fill="#96252f"/>
<rect x="1113" y="313.4" width="3" height="40.5" fill="#e5525e"/>
<rect x="1121" y="335.1" width="1" height="24.1" fill="#27632a"/>
<rect x="1119" y="344.2" width="5" height="10.2" fill="#27632a"/>
<rect x="1120" y="345.2" width="3" height="8.2" fill="#67ab62"/>
<rect x="1128" y="342.7" width="1" height="4.5" fill="#96252f"/>
<rect x="1126" y="343.5" width="5" height="3.3" fill="#96252f"/>
<rect x="1127" y="344.5" width="3" height="1.3" fill="#e5525e"/>
</g>
<rect x="13" y="486" width="1380" height="1" fill="#5a9391" shape-rendering="crispEdges"/>
<rect x="13" y="487" width="1380" height="1" fill="#dceeee" shape-rendering="crispEdges"/>
<rect x="13" y="488" width="1380" height="1" fill="#ecd6d5" shape-rendering="crispEdges"/>
<g stroke="#93776d" stroke-width="1" shape-rendering="crispEdges"><line x1="1392.5" y1="34" x2="1392.5" y2="710.4"/><line x1="13" y1="671.5" x2="1484" y2="671.5"/></g>
<g stroke="#16100f" stroke-width="2.2" stroke-linecap="round" fill="none">
<line x1="1034.4" y1="228.6" x2="1062.9" y2="364.2"/>
<line x1="1056" y1="323.1" x2="1150.3" y2="306.1"/>
<line x1="1062.9" y1="364.5" x2="1157.6" y2="349"/>
</g>
<g stroke="#d3201f" stroke-width="2" stroke-linecap="round" stroke-linejoin="round" fill="none">
<line x1="1150" y1="348.9" x2="1178.4" y2="485.2"/>
<polyline points="1163.1,476 1178.4,485.2 1188.2,470.5"/>
</g>
<text x="1081.4" y="297.6" font-size="17" font-style="italic" fill="#1c1a20" stroke="#1c1a20" stroke-width="0.55" textLength="147.3" lengthAdjust="spacing">Bear Flag Pattern</text>
<text x="1160.3" y="515" font-size="17" font-style="italic" fill="#1c1a20" stroke="#1c1a20" stroke-width="0.55" textLength="187.8" lengthAdjust="spacing">Projected Price Target</text>
<text x="12.8" y="25.6" font-size="15" fill="#d1d4dc" stroke="#d1d4dc" stroke-width="0.25" textLength="457" lengthAdjust="spacing">AnShRoy038 published on TradingView.com, Aug 31, 2024 16:52 UTC</text>
<text x="23.6" y="58.9" font-size="14" fill="#1a1518" textLength="245.5" lengthAdjust="spacing">Ethereum / U.S. Dollar, 3D, BINANCE</text>
<text x="287.6" y="58.9" font-size="13.5" fill="#1a1518" text-anchor="end">O</text>
<text x="288.2" y="58.9" font-size="14" fill="#b2434d" textLength="57.8" lengthAdjust="spacing">2,527.31</text>
<text x="365.8" y="58.9" font-size="13.5" fill="#1a1518" text-anchor="end">H</text>
<text x="366.5" y="58.9" font-size="14" fill="#b2434d" textLength="57.7" lengthAdjust="spacing">2,534.68</text>
<text x="440.3" y="58.9" font-size="13.5" fill="#1a1518" text-anchor="end">L</text>
<text x="441" y="58.9" font-size="14" fill="#b2434d" textLength="57.7" lengthAdjust="spacing">2,511.45</text>
<text x="517.3" y="58.9" font-size="13.5" fill="#1a1518" text-anchor="end">C</text>
<text x="518" y="58.9" font-size="14" fill="#b2434d" textLength="56.5" lengthAdjust="spacing">2,513.56</text>
<text x="584.8" y="58.9" font-size="14" fill="#b2434d" textLength="105.1" lengthAdjust="spacing">−14.22 (−0.56%)</text>
<text x="23.6" y="80" font-size="14" fill="#1a1518" textLength="59.4" lengthAdjust="spacing">Vol · ETH</text>
<text x="93.5" y="80" font-size="14" fill="#e0605a" textLength="39.3" lengthAdjust="spacing">4.15 K</text>
<rect x="1398" y="40" width="81" height="30" rx="4" fill="#ffffff"/>
<text x="1408.8" y="60.2" font-size="14.5" fill="#1a1518" textLength="30.4" lengthAdjust="spacing">USD</text>
<text x="1405" y="102.6" font-size="16" fill="#1a1518" textLength="67.5" lengthAdjust="spacing" font-weight="bold">5,200.00</text>
<text x="1405" y="159.5" font-size="16" fill="#1a1518" textLength="67.5" lengthAdjust="spacing" font-weight="bold">4,400.00</text>
<text x="1405" y="223.1" font-size="16" fill="#1a1518" textLength="67.5" lengthAdjust="spacing" font-weight="bold">3,650.00</text>
<text x="1405" y="284.2" font-size="16" fill="#1a1518" textLength="67.5" lengthAdjust="spacing" font-weight="bold">3,050.00</text>
<text x="1405" y="332.1" font-size="16" fill="#1a1518" textLength="67.5" lengthAdjust="spacing" font-weight="bold">2,650.00</text>
<text x="1405" y="387.8" font-size="16" fill="#1a1518" textLength="67.5" lengthAdjust="spacing" font-weight="bold">2,250.00</text>
<text x="1405" y="436.5" font-size="16" fill="#1a1518" textLength="67.5" lengthAdjust="spacing" font-weight="bold">1,950.00</text>
<text x="1405" y="537.3" font-size="16" fill="#1a1518" textLength="67.5" lengthAdjust="spacing" font-weight="bold">1,450.00</text>
<text x="1405" y="587.8" font-size="16" fill="#1a1518" textLength="67.5" lengthAdjust="spacing" font-weight="bold">1,250.00</text>
<text x="1405" y="634.5" font-size="16" fill="#1a1518" textLength="67.5" lengthAdjust="spacing" font-weight="bold">1,090.00</text>
<rect x="1392.5" y="334" width="87.2" height="24.6" rx="2" fill="#f0505f"/>
<text x="1405.5" y="351.4" font-size="16" fill="#ffffff" textLength="67" lengthAdjust="spacing" font-weight="bold">2,513.56</text>
<rect x="1392.5" y="474" width="87.2" height="24.8" rx="2" fill="#17b1d1"/>
<text x="1405.5" y="491.4" font-size="16" fill="#15222c" textLength="67" lengthAdjust="spacing" font-weight="bold">1,665.46</text>
<text x="105.2" y="696.8" font-size="16.5" fill="#1a1518" text-anchor="middle">Jul</text>
<text x="249.4" y="696.8" font-size="16.5" fill="#1a1518" text-anchor="middle">Sep</text>
<text x="400.7" y="696.8" font-size="16.5" fill="#1a1518" text-anchor="middle">Nov</text>
<text x="544.9" y="696.8" font-size="16.5" font-weight="bold" fill="#1a1518" text-anchor="middle" letter-spacing="0.8">2024</text>
<text x="689.0" y="696.8" font-size="16.5" fill="#1a1518" text-anchor="middle">Mar</text>
<text x="840.3" y="696.8" font-size="16.5" fill="#1a1518" text-anchor="middle">May</text>
<text x="984.5" y="696.8" font-size="16.5" fill="#1a1518" text-anchor="middle">Jul</text>
<text x="1135.8" y="696.8" font-size="16.5" fill="#1a1518" text-anchor="middle">Sep</text>
<text x="1280.0" y="696.8" font-size="16.5" fill="#1a1518" text-anchor="middle">Nov</text>
<g fill="#d1d4dc"><path d="M13 726.7H22.8V738.7H17.8V731.2H13Z"/><circle cx="26.2" cy="729.1" r="2.3"/><path d="M30.9 726.7H37.3L32.2 738.7H26.6Z"/></g>
<text x="41.5" y="738.7" font-size="15.5" fill="#d5d8e0" stroke="#d5d8e0" stroke-width="0.3" textLength="87.8" lengthAdjust="spacing">TradingView</text>
</svg>
</body></html>
